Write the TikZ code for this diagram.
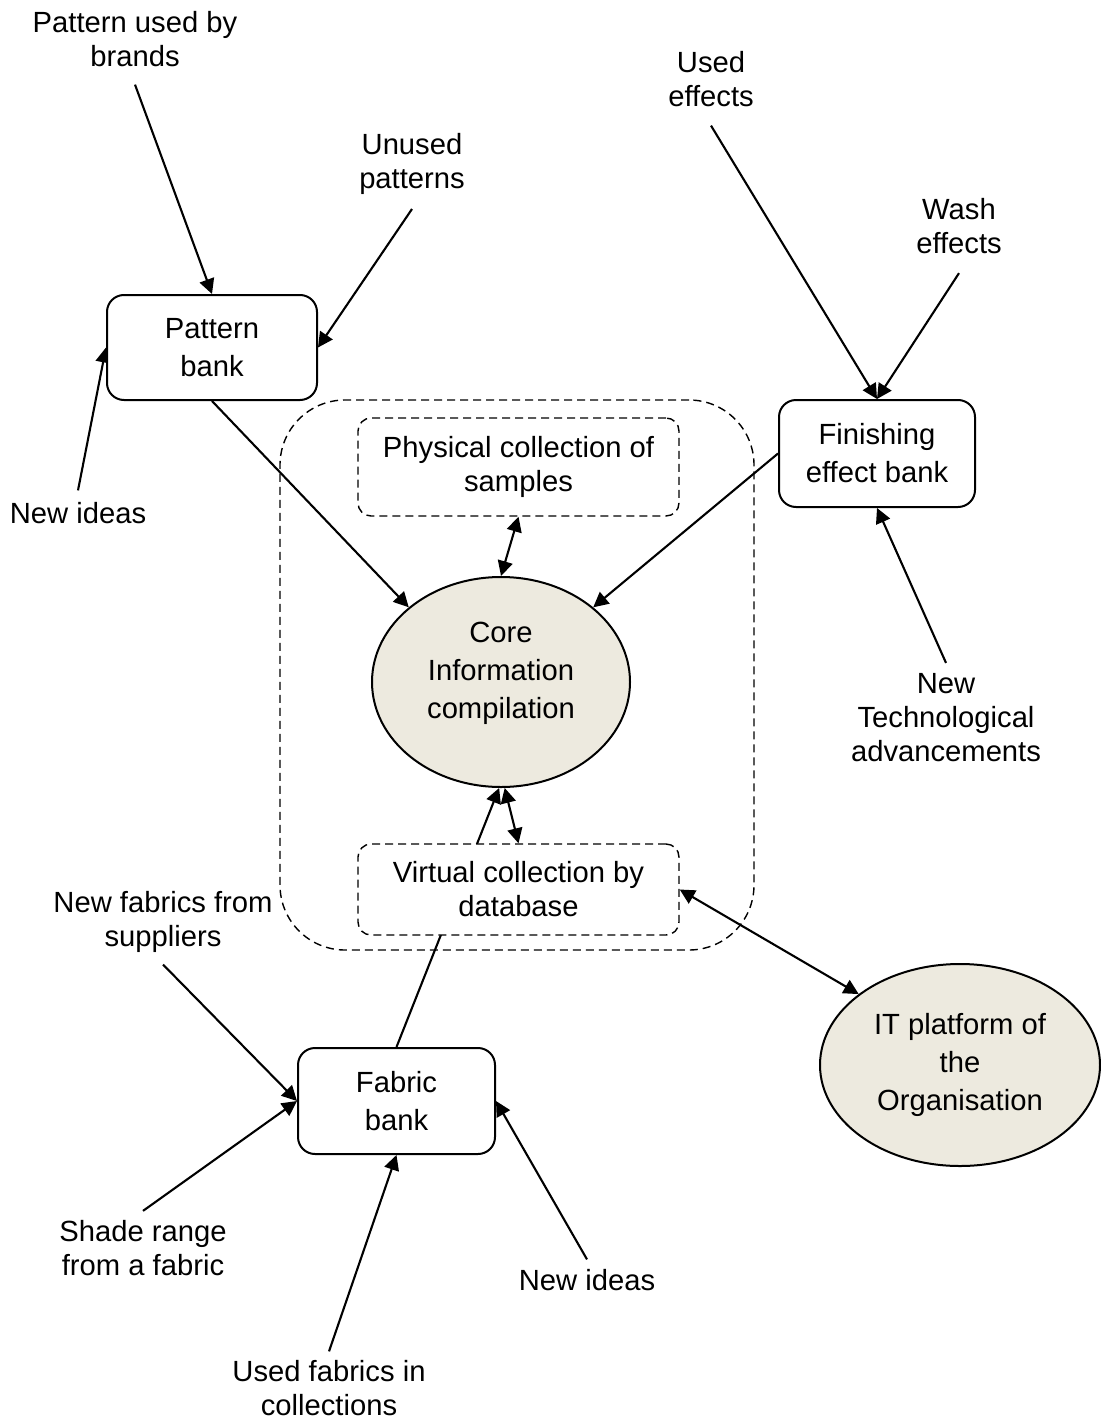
\documentclass[tikz,border=0pt]{standalone}
\usepackage{fontspec}
\setmainfont{Liberation Sans}
\usetikzlibrary{arrows.meta,shapes.geometric}
\definecolor{hubfill}{RGB}{237,234,223}
\pgfdeclarelayer{paper}
\pgfdeclarelayer{links}
\pgfsetlayers{paper,links,main}
\begin{document}
\begin{tikzpicture}[x=0.5pt,y=-0.5pt,
  lbl/.style={align=center,inner xsep=0pt,font=\fontsize{14.6pt}{17pt}\selectfont},
  bank/.style={draw,line width=1pt,rounded corners=8.5pt,fill=white,align=center,
    inner sep=0pt,font=\fontsize{14.6pt}{19pt}\selectfont},
  coll/.style={draw,line width=0.7pt,dash pattern=on 4pt off 2.5pt,rounded corners=6.5pt,
    fill=white,align=center,inner sep=0pt,minimum width=160.5pt,
    font=\fontsize{14.6pt}{17pt}\selectfont},
  hub/.style={ellipse,draw,line width=1pt,fill=hubfill,inner sep=0pt,align=center,
    font=\fontsize{14.6pt}{19pt}\selectfont},
  arr/.style={line width=1.05pt,-{Triangle[length=7.5pt,width=7.5pt]}},
  both/.style={line width=1.05pt,{Triangle[length=7.5pt,width=7.5pt]}-{Triangle[length=7.5pt,width=7.5pt]}},
]
\useasboundingbox (0,0) rectangle (1101,1423);
\begin{pgfonlayer}{paper}
  \fill[white] (0,0) rectangle (1101,1423);
\end{pgfonlayer}

% dashed frame around the collections
\node[draw,line width=0.7pt,dash pattern=on 4pt off 2.5pt,rounded corners=32.5pt,
  minimum width=237pt,minimum height=275pt,inner sep=0pt] (region) at (517,675) {};

% banks
\node[bank,minimum width=105pt,minimum height=52.5pt] (pattern) at (212,347.5) {Pattern\\bank};
\node[bank,minimum width=98pt,minimum height=53.5pt] (finish) at (877,453.5) {Finishing\\effect bank};
\node[bank,minimum width=98.5pt,minimum height=53pt] (fabric) at (396.5,1101) {Fabric\\bank};

% collections
\node[coll,minimum height=49pt] (physical) at (518.5,467) {Physical collection of\\samples};
\node[coll,minimum height=45.5pt] (virtual) at (518.5,889.5) {Virtual collection by\\database};

% hubs
\node[hub,minimum width=129pt,minimum height=105pt] (core) at (501,682) {};
\node[lbl,inner sep=0pt,font=\fontsize{14.6pt}{19pt}\selectfont] (coretext) at (501,673.5)
  {Core\\Information\\compilation};
\node[hub,minimum width=140pt,minimum height=101pt] (itp) at (960,1065)
  {IT platform of\\the\\Organisation};

% sources
\node[lbl,inner ysep=8.5pt] (lPatUsed) at (135,39.5) {Pattern used by\\brands};
\node[lbl,inner ysep=7pt] (lUnused) at (412,164) {Unused\\patterns};
\node[lbl,inner ysep=6pt] (lIdeasP) at (78,513.5) {New ideas};
\node[lbl,inner ysep=9pt] (lUsedEff) at (711,79.5) {Used\\effects};
\node[lbl,inner ysep=9.5pt] (lWash) at (959,226) {Wash\\effects};
\node[lbl,inner ysep=5pt] (lTech) at (946,717.5) {New\\Technological\\advancements};
\node[lbl,inner ysep=6pt] (lNewFab) at (163,921.5) {New fabrics from\\suppliers};
\node[lbl,inner ysep=4.5pt] (lShade) at (143,1248) {Shade range\\from a fabric};
\node[lbl,inner ysep=4.5pt] (lUsedFab) at (329,1388.5) {Used fabrics in\\collections};
\node[lbl,inner ysep=5pt] (lIdeasF) at (587,1280.5) {New ideas};

\begin{pgfonlayer}{links}
  \draw[arr] (lPatUsed.south) -- (pattern.north);
  \draw[arr] (lUnused.south) -- (pattern.east);
  \draw[arr] (lIdeasP.north) -- (pattern.west);
  \draw[arr] (pattern.south) -- (core.141);
  \draw[arr] (lUsedEff.south) -- (finish.north);
  \draw[arr] (lWash.south) -- (finish.north);
  \draw[arr] (lTech.north) -- (finish.south);
  \draw[arr] (finish.west) -- (core.39);
  \draw[both] (physical.south) -- (core.north);
  \draw[arr] (fabric.north) -- (core.-91);
  \draw[both] (core.-88) -- (virtual.north);
  \draw[both] (virtual.east) -- (itp.145);
  \draw[arr] (lNewFab.south) -- (fabric.west);
  \draw[arr] (lShade.north) -- (fabric.west);
  \draw[arr] (lUsedFab.north) -- (fabric.south);
  \draw[arr] (lIdeasF.north) -- (fabric.east);
\end{pgfonlayer}
\end{tikzpicture}
\end{document}
